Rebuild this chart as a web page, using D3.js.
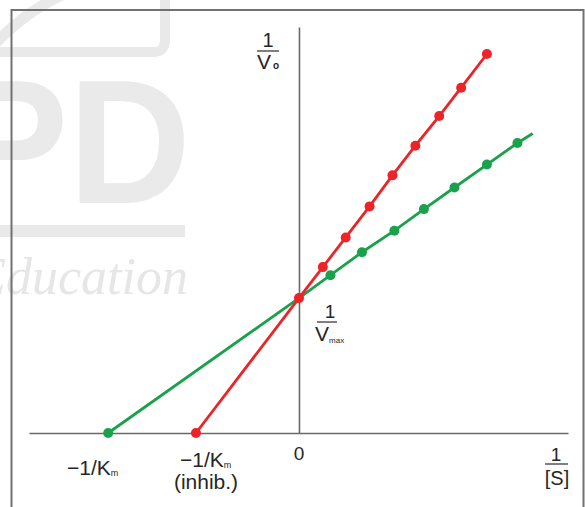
<!DOCTYPE html>
<html>
<head>
<meta charset="utf-8">
<script src="https://cdn.jsdelivr.net/npm/d3@7"></script>
<style>
  html, body { margin: 0; padding: 0; background: #fff; }
  svg { display: block; }
  text { font-family: "Liberation Sans", Arial, Helvetica, sans-serif; fill: #262626; }
</style>
</head>
<body>
<svg id="chart" width="585" height="507"></svg>
<script>
// ---- Data ----
const yIntercept = 1.0;            // 1/Vmax
const greenXIntercept = -2.0;      // -1/Km
const redXIntercept = -1.08;       // -1/Km (inhib.)
const greenX = [0.33, 0.66, 1.00, 1.31, 1.63, 1.97, 2.29];
const greenY = [1.17, 1.34, 1.50, 1.66, 1.82, 1.99, 2.15];
const greenEnd = [2.45, 2.22];
const redX = [0.25, 0.49, 0.74, 0.98, 1.22, 1.47, 1.70, 1.97];
const redY = [1.23, 1.45, 1.68, 1.91, 2.13, 2.35, 2.56, 2.81];
const xDomain = [-2.83, 2.82];
const yDomain = [0, 3.01];

const svg = d3.select("#chart");

// ---- Watermark ----
const wm = svg.append("g").attr("fill", "#e9e9e9").attr("stroke", "none");
wm.append("path")
  .attr("d", "M 78 -12 A 221 221 0 0 0 -12 52")
  .attr("fill", "none").attr("stroke", "#e9e9e9").attr("stroke-width", 11);
wm.append("path")
  .attr("d", "M 165 -5 L 165 40 Q 165 52 153 52 L -5 52")
  .attr("fill", "none").attr("stroke", "#e9e9e9").attr("stroke-width", 10);
wm.append("text")
  .attr("x", -45).attr("y", 203)
  .attr("textLength", 236).attr("lengthAdjust", "spacingAndGlyphs")
  .style("font-size", "176px").style("font-weight", "bold")
  .style("fill", "#eaeaea")
  .text("PD");
wm.append("rect").attr("x", -5).attr("y", 225).attr("width", 190).attr("height", 12);
wm.append("text")
  .attr("x", 188).attr("y", 294).attr("text-anchor", "end")
  .style("font-family", "'Liberation Serif', 'DejaVu Serif', serif")
  .style("font-style", "italic").style("font-size", "52px")
  .style("fill", "#e6e6e6")
  .text("Education");

// ---- Frame ----
svg.append("rect")
  .attr("x", 11.5).attr("y", 10).attr("width", 572).attr("height", 520)
  .attr("fill", "none").attr("stroke", "#717171").attr("stroke-width", 2);

// ---- Scales ----
const x = d3.scaleLinear().domain(xDomain).range([29, 568]);
const y = d3.scaleLinear().domain(yDomain).range([433, 27]);

// ---- Axes (lines only) ----
const axisColor = "#6a6a6a";
const xAxis = svg.append("g")
  .attr("transform", `translate(0,${y(0)})`)
  .call(d3.axisBottom(x).ticks(0).tickSizeOuter(0));
const yAxis = svg.append("g")
  .attr("transform", `translate(${x(0)},0)`)
  .call(d3.axisLeft(y).ticks(0).tickSizeOuter(0));
[xAxis, yAxis].forEach(a => {
  a.select(".domain").attr("stroke", axisColor).attr("stroke-width", 1.6);
  a.selectAll(".tick").remove();
});

// ---- Lines ----
const green = "#1aa14c";
const red = "#ec2428";
const line = d3.line().x(d => x(d[0])).y(d => y(d[1]));

const greenPts = greenX.map((v, i) => [v, greenY[i]]);
const redPts = redX.map((v, i) => [v, redY[i]]);

const greenLine = [[greenXIntercept, 0], [0, yIntercept], ...greenPts, greenEnd];
const redLine = [[redXIntercept, 0], [0, yIntercept], ...redPts];

svg.append("path").datum(greenLine)
  .attr("d", line).attr("fill", "none").attr("stroke", green).attr("stroke-width", 2.8);
svg.append("g").selectAll("circle")
  .data([[greenXIntercept, 0], ...greenPts]).join("circle")
  .attr("cx", d => x(d[0])).attr("cy", d => y(d[1])).attr("r", 5).attr("fill", green);

svg.append("path").datum(redLine)
  .attr("d", line).attr("fill", "none").attr("stroke", red).attr("stroke-width", 2.8);
svg.append("g").selectAll("circle")
  .data([[redXIntercept, 0], [0, yIntercept], ...redPts]).join("circle")
  .attr("cx", d => x(d[0])).attr("cy", d => y(d[1])).attr("r", 5).attr("fill", red);

// ---- Labels ----
const lbl = svg.append("g");
function fracLine(x1, x2, yy) {
  lbl.append("line").attr("x1", x1).attr("x2", x2).attr("y1", yy).attr("y2", yy)
    .attr("stroke", "#3a3a3a").attr("stroke-width", 1.3);
}
// 1 / V0
lbl.append("text").attr("x", 268).attr("y", 47).attr("text-anchor", "middle")
  .style("font-size", "20px").text("1");
fracLine(257, 279, 51);
const v0 = lbl.append("text").attr("x", 257).attr("y", 69).style("font-size", "21px");
v0.append("tspan").text("V");
v0.append("tspan").attr("dx", 2).style("font-size", "10px").style("font-weight", "bold").text("o");

// 1 / Vmax
lbl.append("text").attr("x", 330).attr("y", 318).attr("text-anchor", "middle")
  .style("font-size", "19px").text("1");
fracLine(317, 337, 322);
const vm = lbl.append("text").attr("x", 315).attr("y", 341).style("font-size", "21px");
vm.append("tspan").text("V");
vm.append("tspan").attr("dy", 2).style("font-size", "8px").text("max");

// 0
lbl.append("text").attr("x", x(0)).attr("y", 460).attr("text-anchor", "middle")
  .style("font-size", "19px").text("0");

// -1/Km
const km = lbl.append("text").attr("x", 67).attr("y", 475).style("font-size", "21px");
km.append("tspan").text("\u22121/K");
km.append("tspan").attr("dy", 1).style("font-size", "9px").text("m");

// -1/Km (inhib.)
const kmi = lbl.append("text").attr("x", 180).attr("y", 467).style("font-size", "21px");
kmi.append("tspan").text("\u22121/K");
kmi.append("tspan").attr("dy", 1).style("font-size", "9px").text("m");
lbl.append("text").attr("x", 206).attr("y", 489).attr("text-anchor", "middle")
  .style("font-size", "21px").text("(inhib.)");

// 1 / [S]
lbl.append("text").attr("x", 556).attr("y", 461).attr("text-anchor", "middle")
  .style("font-size", "19px").text("1");
fracLine(545, 568, 464);
lbl.append("text").attr("x", 557).attr("y", 485).attr("text-anchor", "middle")
  .style("font-size", "20px").text("[S]");
</script>
</body>
</html>
